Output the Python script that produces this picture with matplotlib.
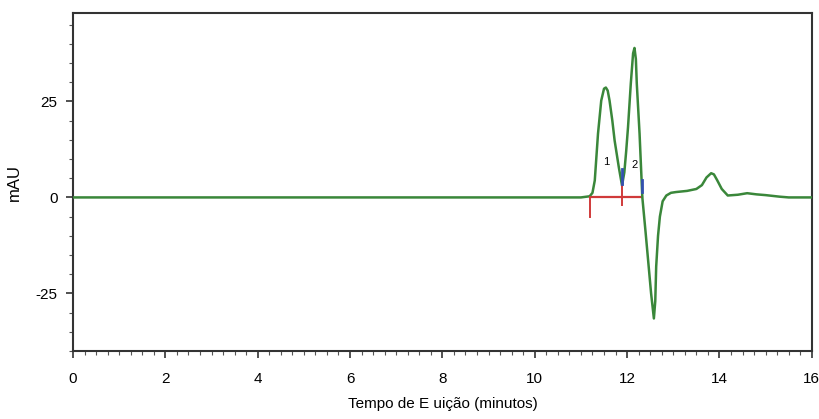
import matplotlib
matplotlib.use("Agg")
import matplotlib.pyplot as plt
from matplotlib.ticker import MultipleLocator

# 色谱数据 (时间 min, 信号 mAU)
time_min = [0.0, 2.0, 4.0, 5.5, 8.0, 11.0, 11.19, 11.25, 11.30, 11.37, 11.44, 11.50,
            11.54, 11.58, 11.62, 11.68, 11.73, 11.82, 11.89, 11.94, 11.98, 12.02,
            12.08, 12.13, 12.16, 12.19, 12.21, 12.27, 12.33, 12.40, 12.46, 12.52,
            12.58, 12.61, 12.63, 12.67, 12.71, 12.77, 12.85, 12.95, 13.06, 13.3,
            13.5, 13.62, 13.72, 13.82, 13.88, 13.95, 14.05, 14.18, 14.4, 14.6,
            14.8, 15.0, 15.3, 15.5, 16.0]
signal_mau = [0.0, 0.0, 0.0, 0.0, 0.0, 0.0, 0.3, 1.2, 4.4, 16.6, 25.2, 28.3,
              28.6, 27.8, 25.2, 20.0, 14.8, 7.9, 3.1, 6.5, 12.0, 18.3,
              29.6, 37.5, 38.9, 36.0, 29.6, 16.6, 0.0, -9.0, -17.0, -25.0,
              -31.5, -27.0, -18.0, -10.0, -5.0, -1.0, 0.5, 1.2, 1.4, 1.7,
              2.2, 3.2, 5.2, 6.3, 6.0, 4.5, 2.2, 0.5, 0.7, 1.1,
              0.8, 0.6, 0.2, 0.0, 0.0]

# 积分标记
red_base = [11.19, 12.33]
red_ticks = [(11.19, 0.0, -5.2), (11.89, 3.6, -2.0)]
blue_ticks = [(11.89, 3.6, 7.5), (12.33, 1.3, 4.6)]
peak_labels = ["1", "2"]
peak_label_pos = [(11.54, 9.1), (12.16, 8.4)]

x_ticks = [0, 2, 4, 6, 8, 10, 12, 14, 16]
y_ticks = [-25, 0, 25]
y_tick_labels = ["-25", "0", "25"]

fig = plt.figure(figsize=(8.2, 4.19), dpi=100)
ax = fig.add_axes([0.089, 0.162, 0.901, 0.807])

ax.plot(time_min, signal_mau, color="#3a873a", lw=1.8, zorder=3)
ax.plot(red_base, [0, 0], color="#d03a3a", lw=1.6, zorder=2)
for x, y0, y1 in red_ticks:
    ax.plot([x, x], [y0, y1], color="#d03a3a", lw=1.4, zorder=4)
for x, y0, y1 in blue_ticks:
    ax.plot([x, x], [y0, y1], color="#3350b0", lw=2.0, zorder=4)
for lab, (x, y) in zip(peak_labels, peak_label_pos):
    ax.text(x, y, lab, fontsize=8, ha="center", va="center", color="black",
            family=["Liberation Sans", "DejaVu Sans"])

ax.set_xlim(0, 16)
ax.set_ylim(-40, 48)
ax.set_xticks(x_ticks)
ax.xaxis.set_minor_locator(MultipleLocator(0.25))
ax.set_yticks(y_ticks)
ax.set_yticklabels(y_tick_labels)
ax.yaxis.set_minor_locator(MultipleLocator(5))

for lab in ax.get_xticklabels() + ax.get_yticklabels():
    lab.set_family(["Liberation Sans", "DejaVu Sans"])
    lab.set_fontsize(11)

ax.tick_params(which="major", direction="out", length=5, width=1.2, color="#333333")
ax.tick_params(which="minor", direction="out", length=3, width=0.8, color="#555555")
ax.tick_params(axis="x", pad=10)
ax.tick_params(axis="y", pad=6)

for s in ax.spines.values():
    s.set_linewidth(1.5)
    s.set_color("#333333")

ax.set_xlabel("Tempo de E uição (minutos)", family=["Liberation Sans", "DejaVu Sans"],
              fontsize=11, labelpad=8)
ax.set_ylabel("mAU", family=["Liberation Sans", "DejaVu Sans"], fontsize=12, labelpad=10)

fig.savefig("out.png", dpi=100)
